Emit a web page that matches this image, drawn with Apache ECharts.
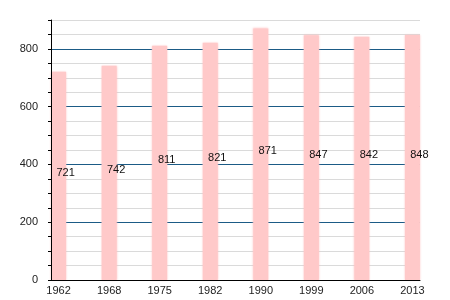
<!DOCTYPE html>
<html><head><meta charset="utf-8">
<script src="https://cdn.jsdelivr.net/npm/echarts@6/dist/echarts.min.js"></script>
<style>html,body{margin:0;padding:0;background:#fff}#c{width:450px;height:300px}</style>
</head><body><div id="c"></div>
<script>
const years = ['1962','1968','1975','1982','1990','1999','2006','2013'];
const population = [721, 742, 811, 821, 871, 847, 842, 848];
const yTickLabels = [0, 200, 400, 600, 800];

const chart = echarts.init(document.getElementById('c'), null, {renderer:'canvas'});
const data = population.map((v, i) => [i, v]);
const hidden = {axisLine: {show: false, onZero: false}, axisTick: {show: false}, axisLabel: {show: false}};
chart.setOption({
  animation: false,
  grid: {left: 51, right: 30, top: 20, bottom: 20},
  xAxis: {
    type: 'value', min: -0.15, max: 7.15, z: 10,
    axisLine: {show: true, onZero: false, lineStyle: {color: '#000', width: 1}},
    axisTick: {show: false},
    splitLine: {show: false},
    axisLabel: {
      customValues: years.map((y, i) => i),
      formatter: v => years[Math.round(v)] || '',
      color: '#222', fontSize: 11, fontFamily: 'Liberation Sans', margin: 5
    }
  },
  yAxis: [Object.assign({
    type: 'value', min: 0, max: 900, interval: 50, position: 'left', z: 0,
    splitLine: {show: true, lineStyle: {color: '#dadada', width: 1}}
  }, hidden), Object.assign({
    type: 'value', min: 0, max: 900, interval: 200, position: 'left', z: 1,
    splitLine: {show: true, showMinLine: false, showMaxLine: false,
      lineStyle: {color: '#1b5b86', width: 1}}
  }, hidden), {
    type: 'value', min: 0, max: 900, interval: 50, position: 'left', z: 10,
    axisLine: {show: true, onZero: false, lineStyle: {color: '#000', width: 1}},
    axisTick: {show: true, length: 3, inside: false, lineStyle: {color: '#000'}},
    axisLabel: {
      formatter: v => yTickLabels.includes(v) ? String(v) : '',
      color: '#222', fontSize: 11, fontFamily: 'Liberation Sans', margin: 13
    },
    splitLine: {show: false}
  }],
  series: [{
    type: 'bar', data: data, barWidth: 15, yAxisIndex: 0, z: 5,
    itemStyle: {color: '#ffc9c9', shadowBlur: 2, shadowColor: 'rgba(255,190,190,0.8)'},
    label: {
      show: true, position: 'inside', offset: [7, -3],
      formatter: p => String(p.value[1]),
      color: '#111', fontSize: 11, fontFamily: 'Liberation Sans'
    }
  }]
});
</script></body></html>
